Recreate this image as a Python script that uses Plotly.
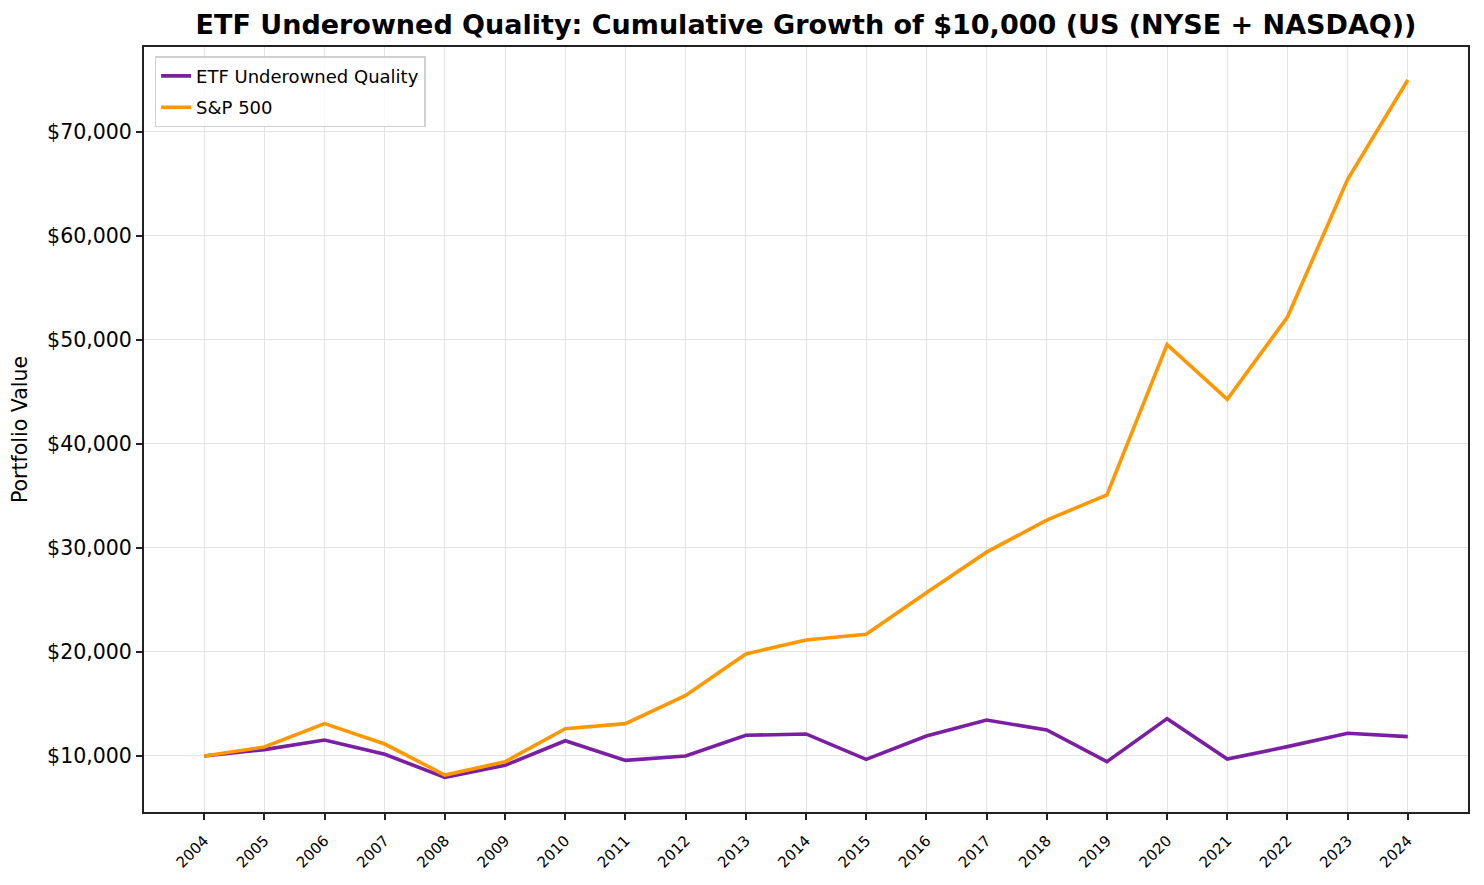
import plotly.graph_objects as go

# cumulative growth of $10,000
years = list(range(2004, 2025))
etf_values = [10000, 10610, 11540, 10160, 7950, 9100, 11470, 9580, 10000, 11990, 12120,
              9680, 11920, 13460, 12500, 9450, 13590, 9710, 10900, 12180, 11860]
sp500_values = [10000, 10865, 13110, 11150, 8170, 9450, 12630, 13110, 15830, 19810, 21150,
                21700, 25700, 29600, 32680, 35110, 49560, 44300, 52210, 65440, 75000]
y_ticks = [10000, 20000, 30000, 40000, 50000, 60000, 70000]
y_tick_labels = ["${:,}".format(v) for v in y_ticks]

# page body has an 8px margin, so the figure is drawn 8px smaller
W, H = 1476, 877

fig = go.Figure()
fig.add_trace(go.Scatter(x=years, y=etf_values, mode="lines", name="ETF Underowned Quality",
                         legendgroup="etf", line=dict(color="#7B1FA2", width=3.6)))
fig.add_trace(go.Scatter(x=years, y=sp500_values, mode="lines", name="S&P 500",
                         legendgroup="sp", line=dict(color="#FF9800", width=3.6)))

fig.update_layout(
    width=W, height=H,
    margin=dict(l=136, r=16, t=39, b=73),
    paper_bgcolor="white", plot_bgcolor="white",
    font=dict(family="DejaVu Sans", color="black", size=18),
    title=dict(text="<b>ETF Underowned Quality: Cumulative Growth of $10,000 (US (NYSE + NASDAQ))</b>",
               x=0.5, xref="paper", xanchor="center", y=1 - 17 / H, yref="container",
               yanchor="middle", font=dict(size=27)),
    legend=dict(x=0.008, y=0.988, xanchor="left", yanchor="top", tracegroupgap=5,
                bordercolor="#d0d0d0", borderwidth=1.5, bgcolor="rgba(255,255,255,0.8)",
                font=dict(size=18)),
    showlegend=True,
)
fig.update_xaxes(range=[2003, 2025], tickvals=years, ticktext=[str(y) for y in years],
                 tickangle=-45, tickfont=dict(size=15), ticklabelstandoff=6, automargin=False,
                 showgrid=True, gridcolor="#e4e4e4", gridwidth=1.2,
                 showline=True, linecolor="#222", linewidth=2, mirror=True,
                 ticks="outside", ticklen=6, tickwidth=1.5, tickcolor="#222", zeroline=False)
fig.update_yaxes(range=[4615, 78170], tickvals=y_ticks, ticktext=y_tick_labels,
                 tickfont=dict(size=20.5), automargin=False,
                 title=dict(text="Portfolio Value", font=dict(size=20.5), standoff=14),
                 showgrid=True, gridcolor="#e4e4e4", gridwidth=1.2,
                 showline=True, linecolor="#222", linewidth=2, mirror=True,
                 ticks="outside", ticklen=6, tickwidth=1.5, tickcolor="#222", zeroline=False)

fig.write_html("out.html")
